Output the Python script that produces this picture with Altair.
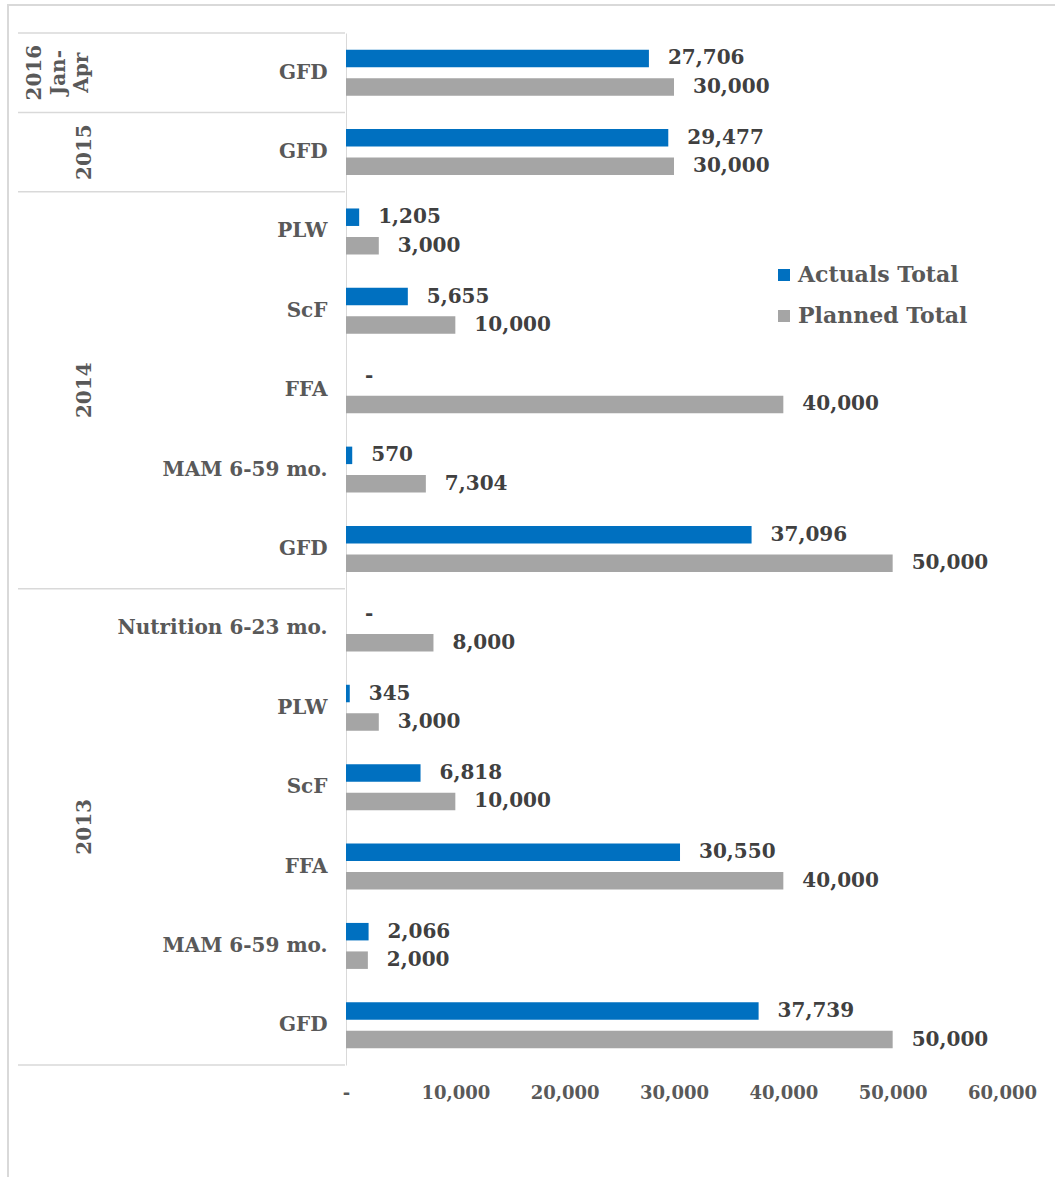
import altair as alt
import pandas as pd

# One row per programme line, top to bottom as listed
periods = ["2016 Jan-Apr", "2015", "2014", "2014", "2014", "2014", "2014",
           "2013", "2013", "2013", "2013", "2013", "2013"]
categories = ["GFD", "GFD", "PLW", "ScF", "FFA", "MAM 6-59 mo.", "GFD",
              "Nutrition 6-23 mo.", "PLW", "ScF", "FFA", "MAM 6-59 mo.", "GFD"]
actuals = [27706, 29477, 1205, 5655, 0, 570, 37096,
           0, 345, 6818, 30550, 2066, 37739]
planned = [30000, 30000, 3000, 10000, 40000, 7304, 50000,
           8000, 3000, 10000, 40000, 2000, 50000]

series = ["Actuals Total", "Planned Total"]
colors = ["#0070C0", "#A5A5A5"]
period_text = {"2016 Jan-Apr": "2016\nJan-\nApr", "2015": "2015",
               "2014": "2014", "2013": "2013"}
x_ticks = [0, 10000, 20000, 30000, 40000, 50000, 60000]

FONT = "DejaVu Serif"
TEXT_GREY = "#595959"
LINE_GREY = "#D9D9D9"

rows = [f"{c}|{p}" for c, p in zip(categories, periods)]

records = []
for r, a, p in zip(rows, actuals, planned):
    for s, v in zip(series, (a, p)):
        records.append({"row": r, "series": s, "value": v,
                        "label": "-" if v == 0 else f"{v:,}"})
bars_df = pd.DataFrame(records)

# Period groups: first/last row and the anchor for the rotated period label
groups = []
for per in dict.fromkeys(periods):
    idx = [i for i, p in enumerate(periods) if p == per]
    n = len(idx)
    band = 0.5 if n % 2 else 0.0
    groups.append({"period": per, "first": rows[idx[0]], "last": rows[idx[-1]],
                   "mid": rows[idx[n // 2]], "band": band,
                   "text": period_text[per], "multi": "\n" in period_text[per]})
groups_df = pd.DataFrame(groups)

y_scale = alt.Scale(domain=rows, paddingInner=0, paddingOuter=0)
x_scale = alt.Scale(domain=[0, 60000], nice=False, zero=True)
off_scale = alt.Scale(domain=series, paddingInner=0.386, paddingOuter=0.586)

y_axis = alt.Axis(title=None, ticks=False, domainColor=LINE_GREY, domainWidth=1,
                  labelExpr="split(datum.value, '|')[0]", labelFont=FONT,
                  labelFontSize=20, labelFontWeight="bold", labelColor=TEXT_GREY,
                  labelPadding=19, labelLimit=400)
x_axis = alt.Axis(title=None, values=x_ticks, grid=False, ticks=False, domain=False,
                  labelExpr="datum.value == 0 ? '-' : format(datum.value, ',')",
                  labelFont=FONT, labelFontSize=18, labelFontWeight="bold",
                  labelColor=TEXT_GREY, labelPadding=19, labelFlush=False,
                  labelOverlap=False)


def y_enc(field, band=0.5):
    return alt.Y(f"{field}:N", scale=y_scale, axis=y_axis, sort=rows,
                 bandPosition=band)


bars = alt.Chart(bars_df).mark_bar().encode(
    y=y_enc("row"),
    yOffset=alt.YOffset("series:N", scale=off_scale, sort=series),
    x=alt.X("value:Q", scale=x_scale, axis=x_axis),
    color=alt.Color("series:N", sort=series,
                    scale=alt.Scale(domain=series, range=colors),
                    legend=alt.Legend(title=None, orient="none", legendX=427,
                                      legendY=231, symbolType="square",
                                      symbolSize=144, symbolStrokeWidth=0,
                                      labelFont=FONT, labelFontSize=22,
                                      labelFontWeight="bold", labelColor=TEXT_GREY,
                                      rowPadding=19, labelOffset=3,
                                      labelLimit=400)),
)

values = alt.Chart(bars_df).mark_text(
    align="left", baseline="middle", dx=19, font=FONT, fontSize=20,
    fontWeight="bold", color="#404040"
).encode(
    y=y_enc("row"),
    yOffset=alt.YOffset("series:N", scale=off_scale, sort=series),
    x=alt.X("value:Q", scale=x_scale, axis=x_axis),
    text="label:N",
)

# Separator lines of the grouped category axis
sep_top = alt.Chart(groups_df).mark_rule(color=LINE_GREY, strokeWidth=1.5).encode(
    y=y_enc("first", 0), x=alt.value(-328), x2=alt.value(-1),
)
sep_bottom = alt.Chart(groups_df.tail(1)).mark_rule(color=LINE_GREY, strokeWidth=1.5).encode(
    y=y_enc("last", 1), x=alt.value(-328), x2=alt.value(-1),
)

year_style = dict(angle=270, align="center", baseline="middle", font=FONT,
                  fontSize=20, fontWeight="bold", color=TEXT_GREY, lineBreak="\n",
                  lineHeight=23.5)
years_center = alt.Chart(groups_df).transform_filter(
    "datum.band == 0.5 && !datum.multi").mark_text(**year_style).encode(
    y=y_enc("mid", 0.5), x=alt.value(-261), text="text:N",
)
years_edge = alt.Chart(groups_df).transform_filter(
    "datum.band == 0 && !datum.multi").mark_text(**year_style).encode(
    y=y_enc("mid", 0), x=alt.value(-261), text="text:N",
)
years_multi = alt.Chart(groups_df).transform_filter("datum.multi").mark_text(
    **year_style).encode(
    y=y_enc("mid", 0.5), x=alt.value(-311), text="text:N",
)

# Outer frame of the chart area
frame_df = pd.DataFrame({"k": [0]})
frame_left = alt.Chart(frame_df).mark_rule(color=LINE_GREY, strokeWidth=2).encode(
    x=alt.value(-338), y=alt.value(-28), y2=alt.value(1150))
frame_top = alt.Chart(frame_df).mark_rule(color=LINE_GREY, strokeWidth=2).encode(
    y=alt.value(-28), x=alt.value(-339), x2=alt.value(720))

chart = alt.layer(
    bars, values, sep_top, sep_bottom,
    years_center, years_edge, years_multi, frame_left, frame_top,
).properties(
    width=656, height=1032,
    background="white",
    padding={"left": 346, "top": 33, "right": 53, "bottom": 112},
    autosize=alt.AutoSizeParams(type="none"),
).configure_view(strokeWidth=0)

chart.save("out.html", embed_options={"renderer": "svg", "actions": False})
